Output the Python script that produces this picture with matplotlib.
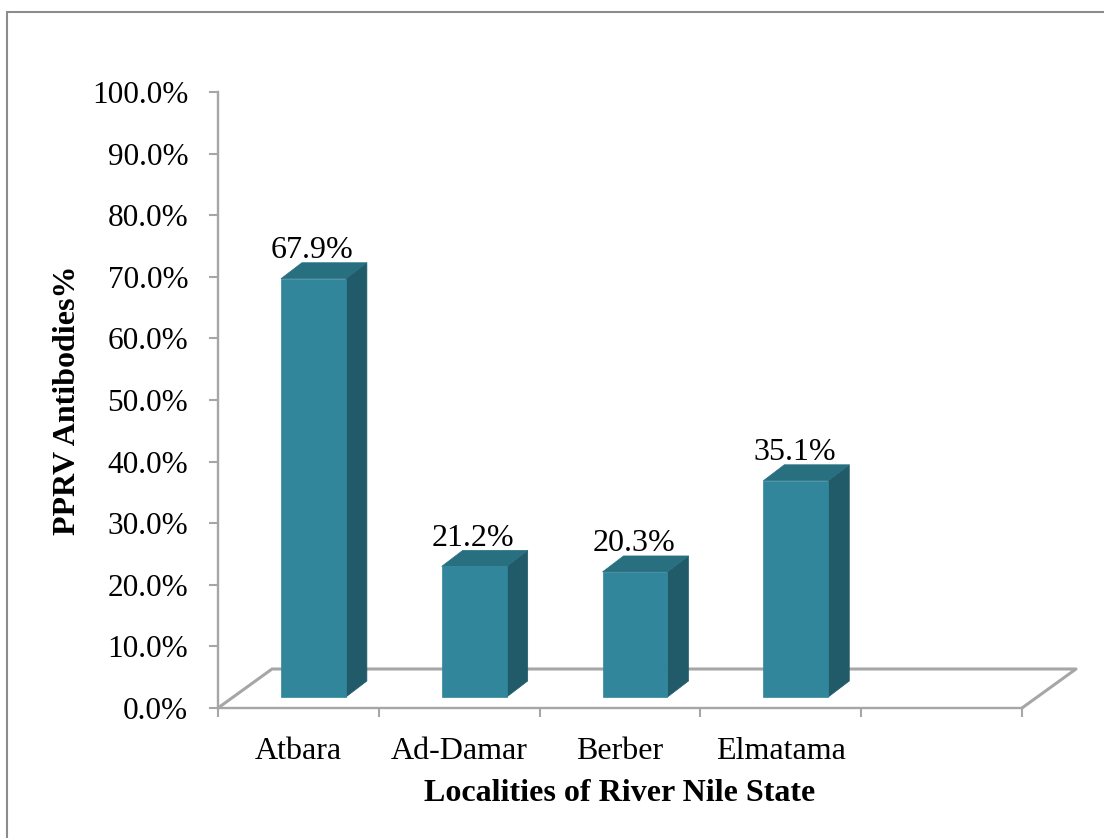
import matplotlib
matplotlib.use('Agg')  # noqa
import matplotlib.pyplot as plt
from matplotlib.patches import Polygon, Rectangle
from matplotlib.lines import Line2D
from matplotlib.transforms import IdentityTransform
import numpy as np

localities = ['Atbara', 'Ad-Damar', 'Berber', 'Elmatama']
antibodies = [67.9, 21.2, 20.3, 35.1]   # % positive
n_slots = 5                              # excel leaves an empty slot on the right
y_ticks = np.arange(0, 101, 10)

front_col = '#31869b'
side_col = '#215a69'
top_col = '#286f80'
axis_col = '#a6a6a6'

plt.rcParams['font.family'] = ['Liberation Serif', 'DejaVu Serif']

W, H = 1104, 838
fig = plt.figure(figsize=(W / 100, H / 100), dpi=100)
ax = fig.add_axes([218 / W, (H - 708) / H, 804 / W, 616 / H])
ax.set_xlim(-0.5, n_slots - 0.5)
ax.set_ylim(0, 100)

# pseudo-3d offsets in pixels (display coords, y up)
floor_d = np.array([54.0, 39.0])   # depth of the floor
bar_off = np.array([15.0, 11.0])   # bars sit a bit back from the front edge
bar_d = np.array([21.0, 16.0])     # depth of each bar
bar_w = 0.404


def pt(x, y, off=(0, 0)):
    return ax.transData.transform((x, y)) + np.asarray(off)


def poly(pts, color, z):
    p = Polygon(pts, closed=True, facecolor=color, edgecolor=color, lw=0.5,
                transform=IdentityTransform(), clip_on=False, zorder=z)
    ax.add_artist(p)


# floor: back edge and the two sides
x0, x1 = -0.5, n_slots - 0.5
floor = [pt(x0, 0), pt(x0, 0, floor_d), pt(x1, 0, floor_d), pt(x1, 0)]
fx = [p[0] for p in floor]
fy = [p[1] for p in floor]
ax.add_artist(Line2D(fx, fy, color=axis_col, lw=2.2, transform=IdentityTransform(),
                     clip_on=False, zorder=1))

for i, v in enumerate(antibodies):
    l, r = i - bar_w / 2, i + bar_w / 2
    front = [pt(l, 0, bar_off), pt(r, 0, bar_off), pt(r, v, bar_off), pt(l, v, bar_off)]
    side = [pt(r, 0, bar_off), pt(r, 0, bar_off + bar_d),
            pt(r, v, bar_off + bar_d), pt(r, v, bar_off)]
    top = [pt(l, v, bar_off), pt(r, v, bar_off),
           pt(r, v, bar_off + bar_d), pt(l, v, bar_off + bar_d)]
    poly(side, side_col, 3)
    poly(top, top_col, 3)
    poly(front, front_col, 4)
    ax.annotate(f'{v:.1f}%', xy=(i, v), xytext=(14, 39), textcoords='offset pixels',
                ha='center', va='center', fontsize=23, zorder=5)

for s in ['top', 'right']:
    ax.spines[s].set_visible(False)
for s in ['left', 'bottom']:
    ax.spines[s].set_color(axis_col)
    ax.spines[s].set_linewidth(1.7)

ax.set_yticks(y_ticks)
ax.set_yticklabels([f'{t:.1f}%' for t in y_ticks])
ax.tick_params(axis='y', length=6.5, width=1.5, color=axis_col, pad=15, labelsize=22.5)

ax.set_xticks(range(len(localities)))
ax.set_xticklabels(localities)
ax.set_xticks(np.arange(n_slots + 1) - 0.5, minor=True)
ax.tick_params(axis='x', which='major', length=0, pad=21, labelsize=23)
ax.tick_params(axis='x', which='minor', length=6.5, width=1.5, color=axis_col)

ax.set_xlabel('Localities of River Nile State', fontsize=23, fontweight='bold', va='center')
ax.xaxis.set_label_coords(0.5, -(793 - 708) / 616)
ax.set_ylabel('PPRV Antibodies%', fontsize=23, fontweight='bold', va='center')
ax.yaxis.set_label_coords((68 - 218) / 804, 0.5)

# chart area border, runs off the right and bottom of the image
fig.add_artist(Rectangle((7 / W, -0.05), 1.2, (H - 12) / H + 0.05,
                         transform=fig.transFigure, fill=False,
                         edgecolor='#8c8c8c', lw=1.5))

plt.savefig('out.png', dpi=100)
